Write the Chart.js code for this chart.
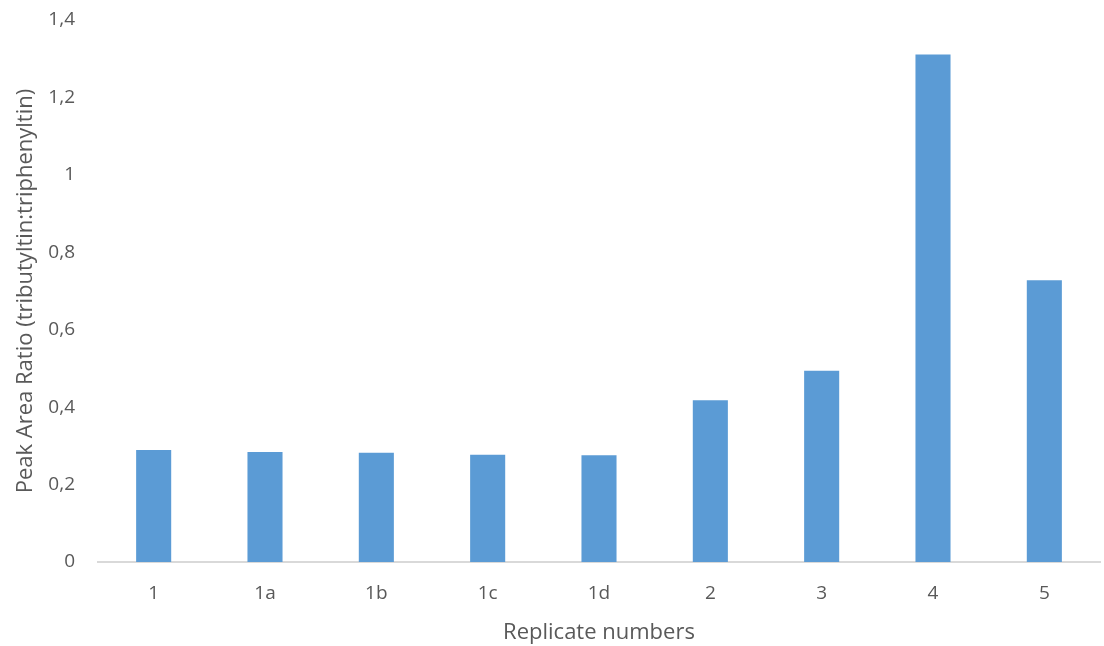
<!DOCTYPE html>
<html>
<head>
<meta charset="utf-8">
<script src="https://cdn.jsdelivr.net/npm/chart.js@4.4.1/dist/chart.umd.min.js"></script>
<style>
  html, body { margin: 0; padding: 0; background: #ffffff; }
  #wrap { width: 1104px; height: 646px; }
</style>
</head>
<body>
<div id="wrap"><canvas id="chart" width="1104" height="646"></canvas></div>
<script>
// Data
const replicates = ['1', '1a', '1b', '1c', '1d', '2', '3', '4', '5'];
const peakRatios = [0.289, 0.284, 0.282, 0.277, 0.276, 0.418, 0.494, 1.311, 0.728];
const yTickLabels = ['0', '0,2', '0,4', '0,6', '0,8', '1', '1,2', '1,4'];

const textColor = '#595959';
const fontFamily = '"Open Sans", "Liberation Sans", sans-serif';

const ctx = document.getElementById('chart').getContext('2d');

new Chart(ctx, {
    type: 'bar',
    data: {
        labels: replicates,
        datasets: [{
            data: peakRatios,
            backgroundColor: '#5B9BD5',
            borderWidth: 0,
            barPercentage: 0.315,
            categoryPercentage: 1
        }]
    },
    options: {
        responsive: false,
        animation: false,
        layout: { padding: { top: 8, right: 4, left: 0, bottom: 0 } },
        plugins: {
            legend: { display: false },
            tooltip: { enabled: false }
        },
        scales: {
            x: {
                grid: { display: false, drawTicks: false },
                border: { display: true, color: '#D9D9D9', width: 2 },
                ticks: {
                    color: textColor,
                    font: { family: fontFamily, size: 19 },
                    padding: 20,
                    maxRotation: 0
                },
                title: {
                    display: true,
                    text: 'Replicate numbers',
                    color: textColor,
                    font: { family: fontFamily, size: 22 },
                    padding: { top: 0, bottom: 0 }
                },
                afterFit: (scale) => { scale.height = 84; }
            },
            y: {
                min: 0,
                max: 1.4,
                grid: { display: false, drawTicks: false },
                border: { display: false },
                ticks: {
                    stepSize: 0.2,
                    color: textColor,
                    font: { family: fontFamily, size: 19 },
                    padding: 23,
                    callback: (value, index) => yTickLabels[index]
                },
                title: {
                    display: true,
                    text: 'Peak Area Ratio (tributyltin:triphenyltin)',
                    color: textColor,
                    font: { family: fontFamily, size: 22 },
                    padding: { top: 13, bottom: 0 }
                },
                afterFit: (scale) => {
                    scale.width = 98;
                    scale.paddingTop = 20;
                }
            }
        }
    }
});
</script>
</body>
</html>
